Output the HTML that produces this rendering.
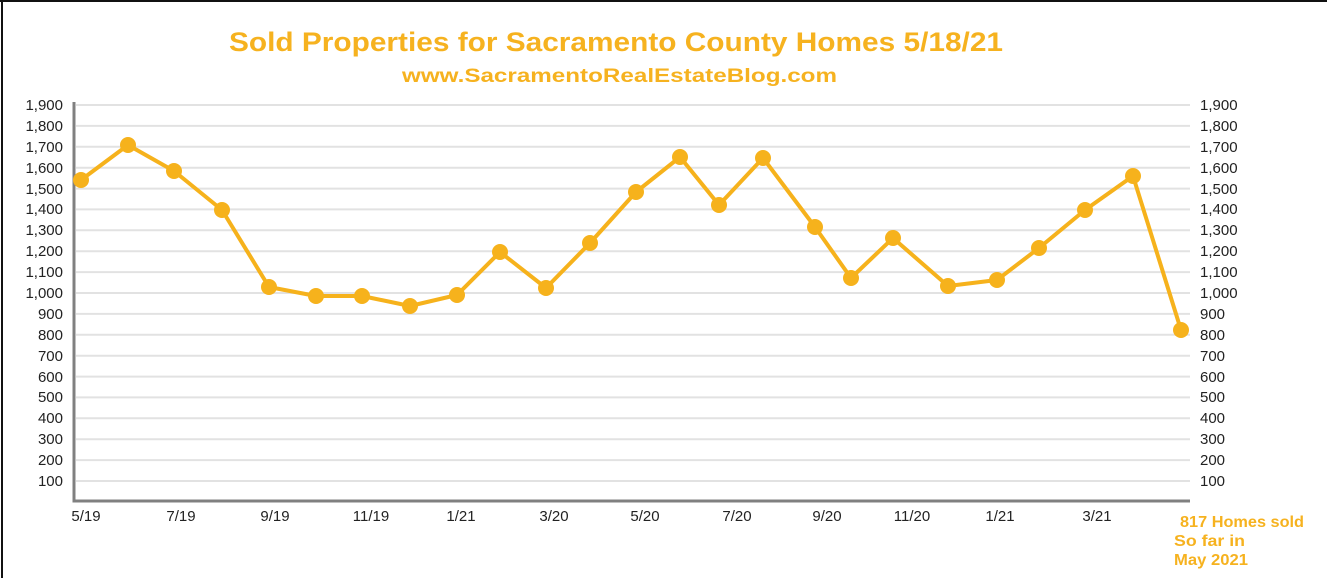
<!DOCTYPE html>
<html><head><meta charset="utf-8"><style>
html,body{margin:0;padding:0;background:#fff;}
body{width:1327px;height:578px;overflow:hidden;}
</style></head><body>
<svg width="1327" height="578" viewBox="0 0 1327 578" xmlns="http://www.w3.org/2000/svg" font-family="Liberation Sans, sans-serif">
<rect x="0" y="0" width="1327" height="578" fill="#fff"/>
<line x1="0" y1="1" x2="1327" y2="1" stroke="#111" stroke-width="2"/>
<line x1="2" y1="0" x2="2" y2="578" stroke="#111" stroke-width="2"/>
<text x="229" y="51" textLength="774" lengthAdjust="spacingAndGlyphs" font-size="27" font-weight="bold" fill="#f6b21f">Sold Properties for Sacramento County Homes 5/18/21</text>
<text x="402" y="82" textLength="435" lengthAdjust="spacingAndGlyphs" font-size="19" font-weight="bold" fill="#f6b21f">www.SacramentoRealEstateBlog.com</text>
<g id="grid" stroke="#e2e2e2" stroke-width="2">
<line x1="76" x2="1190" y1="105" y2="105"/><line x1="76" x2="1190" y1="125.9" y2="125.9"/><line x1="76" x2="1190" y1="146.8" y2="146.8"/><line x1="76" x2="1190" y1="167.7" y2="167.7"/><line x1="76" x2="1190" y1="188.6" y2="188.6"/><line x1="76" x2="1190" y1="209.4" y2="209.4"/><line x1="76" x2="1190" y1="230.3" y2="230.3"/><line x1="76" x2="1190" y1="251.2" y2="251.2"/><line x1="76" x2="1190" y1="272.1" y2="272.1"/><line x1="76" x2="1190" y1="293" y2="293"/><line x1="76" x2="1190" y1="313.9" y2="313.9"/><line x1="76" x2="1190" y1="334.8" y2="334.8"/><line x1="76" x2="1190" y1="355.7" y2="355.7"/><line x1="76" x2="1190" y1="376.6" y2="376.6"/><line x1="76" x2="1190" y1="397.4" y2="397.4"/><line x1="76" x2="1190" y1="418.3" y2="418.3"/><line x1="76" x2="1190" y1="439.2" y2="439.2"/><line x1="76" x2="1190" y1="460.1" y2="460.1"/><line x1="76" x2="1190" y1="481" y2="481"/>
</g>
<polyline points="74,102 74,501 1190,501" fill="none" stroke="#808080" stroke-width="3"/>
<g font-size="15" fill="#222" text-anchor="end">
<text x="63" y="110">1,900</text><text x="63" y="131">1,800</text><text x="63" y="152">1,700</text><text x="63" y="173">1,600</text><text x="63" y="194">1,500</text><text x="63" y="214">1,400</text><text x="63" y="235">1,300</text><text x="63" y="256">1,200</text><text x="63" y="277">1,100</text><text x="63" y="298">1,000</text><text x="63" y="319">900</text><text x="63" y="340">800</text><text x="63" y="361">700</text><text x="63" y="382">600</text><text x="63" y="402">500</text><text x="63" y="423">400</text><text x="63" y="444">300</text><text x="63" y="465">200</text><text x="63" y="486">100</text>
</g>
<g font-size="15" fill="#222" text-anchor="start">
<text x="1200" y="110">1,900</text><text x="1200" y="131">1,800</text><text x="1200" y="152">1,700</text><text x="1200" y="173">1,600</text><text x="1200" y="194">1,500</text><text x="1200" y="214">1,400</text><text x="1200" y="235">1,300</text><text x="1200" y="256">1,200</text><text x="1200" y="277">1,100</text><text x="1200" y="298">1,000</text><text x="1200" y="319">900</text><text x="1200" y="340">800</text><text x="1200" y="361">700</text><text x="1200" y="382">600</text><text x="1200" y="402">500</text><text x="1200" y="423">400</text><text x="1200" y="444">300</text><text x="1200" y="465">200</text><text x="1200" y="486">100</text>
</g>
<g font-size="15" fill="#222" text-anchor="middle">
<text x="86" y="521">5/19</text><text x="181" y="521">7/19</text><text x="275" y="521">9/19</text><text x="371" y="521">11/19</text><text x="461" y="521">1/21</text><text x="554" y="521">3/20</text><text x="645" y="521">5/20</text><text x="737" y="521">7/20</text><text x="827" y="521">9/20</text><text x="912" y="521">11/20</text><text x="1000" y="521">1/21</text><text x="1097" y="521">3/21</text>
</g>
<polyline fill="none" stroke="#f6b21c" stroke-width="4" stroke-linejoin="round" points="81,180 128,145 174,171 222,210 269,287 316,296 362,296 410,306 457,295 500,252 546,288 590,243 636,192 680,157 719,205 763,158 815,227 851,278 893,238 948,286 997,280 1039,248 1085,210 1133,176 1181,330"/>
<g fill="#f6b21c">
<circle cx="81" cy="180" r="8"/><circle cx="128" cy="145" r="8"/><circle cx="174" cy="171" r="8"/><circle cx="222" cy="210" r="8"/><circle cx="269" cy="287" r="8"/><circle cx="316" cy="296" r="8"/><circle cx="362" cy="296" r="8"/><circle cx="410" cy="306" r="8"/><circle cx="457" cy="295" r="8"/><circle cx="500" cy="252" r="8"/><circle cx="546" cy="288" r="8"/><circle cx="590" cy="243" r="8"/><circle cx="636" cy="192" r="8"/><circle cx="680" cy="157" r="8"/><circle cx="719" cy="205" r="8"/><circle cx="763" cy="158" r="8"/><circle cx="815" cy="227" r="8"/><circle cx="851" cy="278" r="8"/><circle cx="893" cy="238" r="8"/><circle cx="948" cy="286" r="8"/><circle cx="997" cy="280" r="8"/><circle cx="1039" cy="248" r="8"/><circle cx="1085" cy="210" r="8"/><circle cx="1133" cy="176" r="8"/><circle cx="1181" cy="330" r="8"/>
</g>
<g font-size="16" font-weight="bold" fill="#f6b21f">
<text x="1180" y="527" textLength="124" lengthAdjust="spacingAndGlyphs">817 Homes sold</text>
<text x="1174" y="546" textLength="71" lengthAdjust="spacingAndGlyphs">So  far in</text>
<text x="1174" y="565" textLength="74" lengthAdjust="spacingAndGlyphs">May 2021</text>
</g>
</svg>
</body></html>
